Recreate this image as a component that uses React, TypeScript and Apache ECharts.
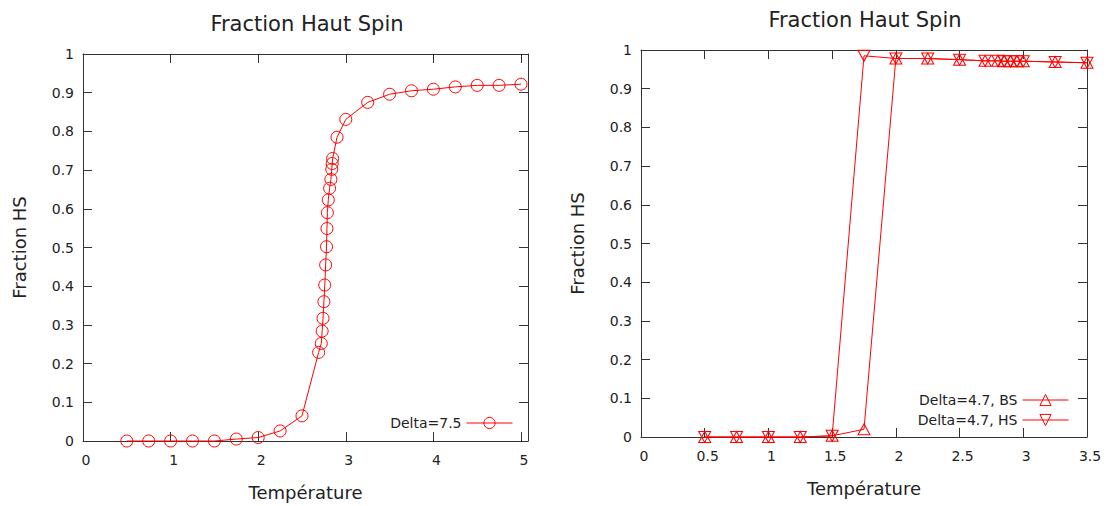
import React, { useEffect, useRef } from 'react';
import * as echarts from 'echarts';

// Left chart: Delta = 7.5
const leftT = [0.5, 0.75, 1, 1.25, 1.5, 1.75, 2, 2.25, 2.5,
  2.69, 2.72, 2.73, 2.74, 2.75, 2.76, 2.77, 2.78, 2.785, 2.79, 2.8, 2.815, 2.83, 2.84, 2.845, 2.85,
  2.9, 3, 3.25, 3.5, 3.75, 4, 4.25, 4.5, 4.75, 5];
const leftHS = [0, 0, 0, 0, 0, 0.005, 0.009, 0.026, 0.065,
  0.229, 0.252, 0.284, 0.317, 0.36, 0.403, 0.455, 0.502, 0.549, 0.59, 0.623, 0.653, 0.676, 0.702, 0.717, 0.73,
  0.785, 0.831, 0.875, 0.896, 0.905, 0.909, 0.915, 0.919, 0.919, 0.922];

// Right chart: Delta = 4.7
const rightT = [0.5, 0.75, 1, 1.25, 1.5, 1.75, 2, 2.25, 2.5, 2.7, 2.8, 2.85, 2.9, 2.95, 3, 3.25, 3.5];
const rightBS = [0, 0, 0, 0, 0.003, 0.02, 0.978, 0.978, 0.975, 0.972, 0.972, 0.971, 0.971, 0.971, 0.971, 0.969, 0.967];
const rightHS = [0, 0, 0, 0, 0.003, 0.985, 0.978, 0.978, 0.975, 0.972, 0.972, 0.971, 0.971, 0.971, 0.971, 0.969, 0.967];

const titleText = 'Fraction Haut Spin';
const xName = 'Température';
const yName = 'Fraction HS';
const nameLeft = 'Delta=7.5';
const nameBS = 'Delta=4.7, BS';
const nameHS = 'Delta=4.7, HS';

const FONT = 'DejaVu Sans';
const AX = '#333';
const TXT = '#222';
const RED = '#ff0000';

function zip(xs: number[], ys: number[]) {
  return xs.map((x, i) => [x, ys[i]]);
}

function xAxes(grid: number, max: number, interval: number) {
  const fmt = (v: number) => {
    const k = Math.round(v / interval);
    return Math.abs(v - k * interval) < 1e-6 ? String(Math.round(v * 100) / 100) : '';
  };
  const base = {
    type: 'value', gridIndex: grid, min: 0, max, interval,
    splitLine: { show: false },
    axisLine: { show: true, onZero: false, lineStyle: { color: AX, width: 1 } },
    axisTick: { show: true, inside: true, length: 9, lineStyle: { color: AX } },
  };
  return [
    {
      ...base, position: 'bottom',
      axisLabel: { fontSize: 14, fontFamily: FONT, color: TXT, margin: 12, formatter: fmt, padding: [0, 0, 0, 6] },
      name: xName, nameLocation: 'middle', nameGap: 42,
      nameTextStyle: { fontSize: 18, fontFamily: FONT, color: TXT },
    },
    { ...base, position: 'top', axisLabel: { show: false } },
  ];
}

function yAxes(grid: number) {
  const base = {
    type: 'value', gridIndex: grid, min: 0, max: 1, interval: 0.1,
    splitLine: { show: false },
    axisLine: { show: true, onZero: false, lineStyle: { color: AX, width: 1 } },
    axisTick: { show: true, inside: true, length: 9, lineStyle: { color: AX } },
  };
  return [
    {
      ...base, position: 'left',
      axisLabel: { fontSize: 14, fontFamily: FONT, color: TXT, margin: 9 },
      name: yName, nameLocation: 'middle', nameGap: 55,
      nameTextStyle: { fontSize: 18, fontFamily: FONT, color: TXT },
    },
    { ...base, position: 'right', axisLabel: { show: false } },
  ];
}

const markStyle = { color: 'rgba(0,0,0,0)', borderColor: RED, borderWidth: 1 };

export default function App() {
  const ref = useRef<HTMLDivElement>(null);
  useEffect(() => {
    if (!ref.current) return;
    const chart = echarts.init(ref.current, undefined, { renderer: 'svg' });
    const legendCommon = {
      orient: 'vertical', align: 'right', itemWidth: 46, itemHeight: 14, itemGap: 6, padding: 0,
      textStyle: { fontSize: 14, fontFamily: FONT, color: TXT },
      itemStyle: { borderWidth: 1 },
      lineStyle: { width: 1 },
      selectedMode: false,
    };
    chart.setOption({
      animation: false,
      backgroundColor: '#fff',
      title: [
        { text: titleText, left: 307, top: 13, textAlign: 'center', padding: 0,
          textStyle: { fontSize: 21, fontWeight: 'normal', fontFamily: FONT, color: TXT } },
        { text: titleText, left: 865, top: 9, textAlign: 'center', padding: 0,
          textStyle: { fontSize: 21, fontWeight: 'normal', fontFamily: FONT, color: TXT } },
      ],
      grid: [
        { left: 83, top: 54, width: 445, height: 387 },
        { left: 641, top: 50, width: 446, height: 387 },
      ],
      xAxis: [...xAxes(0, 5.08, 1), ...xAxes(1, 3.5, 0.5)],
      yAxis: [...yAxes(0), ...yAxes(1)],
      legend: [
        { ...legendCommon, data: [nameLeft], right: 600, top: 416 },
        { ...legendCommon, data: [nameBS, nameHS], right: 44, top: 393 },
      ],
      series: [
        {
          type: 'line', name: nameLeft, xAxisIndex: 0, yAxisIndex: 0,
          data: zip(leftT, leftHS), symbol: 'circle', symbolSize: 12,
          lineStyle: { color: RED, width: 1 }, itemStyle: markStyle, clip: false,
        },
        {
          type: 'line', name: nameBS, xAxisIndex: 2, yAxisIndex: 2,
          data: zip(rightT, rightBS), symbol: 'triangle', symbolSize: [12, 11],
          lineStyle: { color: RED, width: 1 }, itemStyle: markStyle, clip: false,
        },
        {
          type: 'line', name: nameHS, xAxisIndex: 2, yAxisIndex: 2,
          data: zip(rightT, rightHS), symbol: 'triangle', symbolSize: [12, 11], symbolRotate: 180,
          lineStyle: { color: RED, width: 1 }, itemStyle: markStyle, clip: false,
        },
      ],
    });
    return () => chart.dispose();
  }, []);
  return (
    <div
      ref={ref}
      style={{ position: 'absolute', left: 0, top: 0, width: 1113, height: 506, background: '#fff' }}
    />
  );
}
